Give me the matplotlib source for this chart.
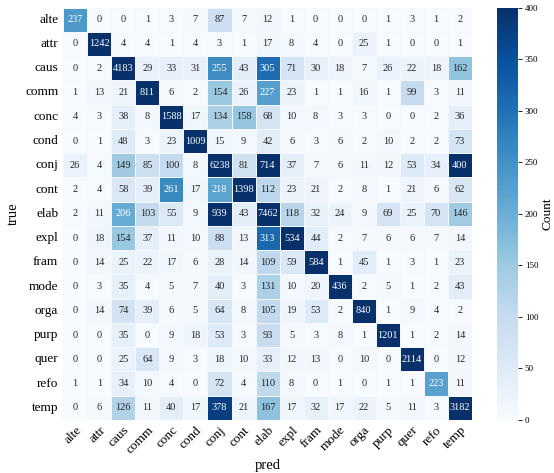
import numpy as np
import matplotlib
matplotlib.use("Agg")
import matplotlib.pyplot as plt
import seaborn as sns

labels = ["alte", "attr", "caus", "comm", "conc", "cond", "conj", "cont", "elab",
          "expl", "fram", "mode", "orga", "purp", "quer", "refo", "temp"]

alte = [237, 0, 0, 1, 3, 7, 87, 7, 12, 1, 0, 0, 0, 1, 3, 1, 2]
attr = [0, 1242, 4, 4, 1, 4, 3, 1, 17, 8, 4, 0, 25, 1, 0, 0, 1]
caus = [0, 2, 4183, 29, 33, 31, 255, 43, 305, 71, 30, 18, 7, 26, 22, 18, 162]
comm = [1, 13, 21, 811, 6, 2, 154, 26, 227, 23, 1, 1, 16, 1, 99, 3, 11]
conc = [4, 3, 38, 8, 1588, 17, 134, 158, 68, 10, 8, 3, 3, 0, 0, 2, 36]
cond = [0, 1, 48, 3, 23, 1009, 15, 9, 42, 6, 3, 6, 2, 10, 2, 2, 73]
conj = [26, 4, 149, 85, 100, 8, 6238, 81, 714, 37, 7, 6, 11, 12, 53, 34, 400]
cont = [2, 4, 58, 39, 261, 17, 218, 1398, 112, 23, 21, 2, 8, 1, 21, 6, 62]
elab = [2, 11, 206, 103, 55, 9, 939, 43, 7462, 118, 32, 24, 9, 69, 25, 70, 146]
expl = [0, 18, 154, 37, 11, 10, 88, 13, 313, 534, 44, 2, 7, 6, 6, 7, 14]
fram = [0, 14, 25, 22, 17, 6, 28, 14, 109, 59, 584, 1, 45, 1, 3, 1, 23]
mode = [0, 3, 35, 4, 5, 7, 40, 3, 131, 10, 20, 436, 2, 5, 1, 2, 43]
orga = [0, 14, 74, 39, 6, 5, 64, 8, 105, 19, 53, 2, 840, 1, 9, 4, 2]
purp = [0, 0, 35, 0, 9, 18, 53, 3, 93, 5, 3, 8, 1, 1201, 1, 2, 14]
quer = [0, 0, 25, 64, 9, 3, 18, 10, 33, 12, 13, 0, 10, 0, 2114, 0, 12]
refo = [1, 1, 34, 10, 4, 0, 72, 4, 110, 8, 0, 1, 0, 1, 1, 223, 11]
temp = [0, 6, 126, 11, 40, 17, 378, 21, 167, 17, 32, 17, 22, 5, 11, 3, 3182]

cm = np.array([alte, attr, caus, comm, conc, cond, conj, cont, elab,
               expl, fram, mode, orga, purp, quer, refo, temp])

plt.rcParams['font.family'] = ['Liberation Serif', 'DejaVu Serif']

fig = plt.figure(figsize=(5.54, 4.73), dpi=100)
ax = fig.add_axes([0.114, 0.112, 0.738, 0.872])
cax = fig.add_axes([0.897, 0.112, 0.038, 0.872])
sns.heatmap(cm, annot=True, fmt="d", cmap="Blues", vmin=0, vmax=400,
            xticklabels=labels, yticklabels=labels, linewidths=0.5, linecolor="#f4f8fc",
            annot_kws={"size": 7.5}, ax=ax, cbar_ax=cax,
            cbar_kws={"label": "Count"})
ax.set_xlabel("pred", fontsize=10.5, labelpad=2)
ax.set_ylabel("true", fontsize=10.5)
ax.tick_params(axis="x", labelsize=9.5, length=0, rotation=45, pad=3)
ax.tick_params(axis="y", labelsize=9.5, length=0, rotation=0)
for t in ax.get_xticklabels():
    t.set_ha("right")
    t.set_rotation_mode("anchor")
cax.tick_params(labelsize=6.5, length=3, width=0.6, pad=2)
cax.set_ylabel("Count", fontsize=9.5, labelpad=2)
cb = ax.collections[0].colorbar
cb.outline.set_visible(False)
plt.savefig("out.png", dpi=100)
